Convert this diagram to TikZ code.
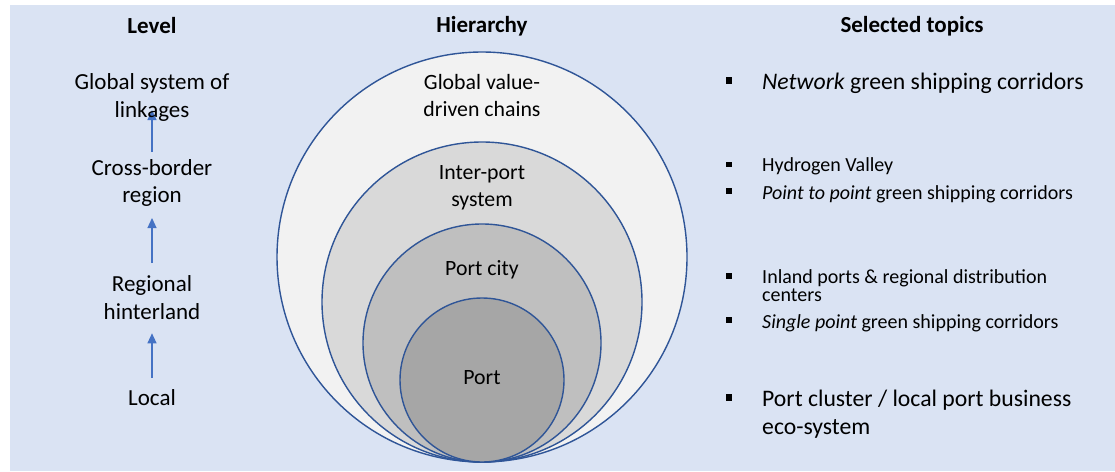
\documentclass[tikz,border=0pt]{standalone}
\usepackage{fontspec}
\setmainfont{Carlito}
\usetikzlibrary{arrows.meta}
\definecolor{panel}{HTML}{DAE3F3}
\definecolor{ringline}{HTML}{2F5597}
\definecolor{arrowblue}{HTML}{4472C4}
\definecolor{ringA}{HTML}{F2F2F2}
\definecolor{ringB}{HTML}{D9D9D9}
\definecolor{ringC}{HTML}{BFBFBF}
\definecolor{ringD}{HTML}{A6A6A6}
\pgfdeclarelayer{back}
\pgfsetlayers{back,main}
\begin{document}
\begin{tikzpicture}[x=1pt,y=-1pt,
  head/.style={inner sep=0pt, anchor=base, font=\fontsize{23}{27}\selectfont\bfseries},
  lvl/.style={inner sep=0pt, anchor=base, font=\fontsize{23}{28}\selectfont},
  hier/.style={inner sep=0pt, anchor=base, font=\fontsize{21.8}{27}\selectfont},
  small/.style={inner sep=0pt, anchor=base west, font=\fontsize{20}{24}\selectfont},
  big/.style={inner sep=0pt, anchor=base west, font=\fontsize{23.7}{28}\selectfont},
  ring/.style={circle, draw=ringline, line width=1.4pt, inner sep=0pt},
  bulbig/.style={rectangle, fill=black, inner sep=0pt, minimum size=6.8pt},
  bulsmall/.style={rectangle, fill=black, inner sep=0pt, minimum size=5.6pt},
  lvlarrow/.style={draw=arrowblue, line width=1.2pt, -{Triangle[length=10pt,width=9pt]}}
]
\useasboundingbox (0,0) rectangle (1115,471);
\begin{pgfonlayer}{back}
  \fill[white] (0,0) rectangle (1115,471);
  \fill[panel] (10,5) rectangle (1115,471);
\end{pgfonlayer}

% column headings
\node[head] (hlevel) at (152,33) {Level};
\node[head] (hhier)  at (482,32) {Hierarchy};
\node[head] (htopic) at (912,32) {Selected topics};

% levels, bottom to top
\node[lvl] (global)  at (152,89.3)  {Global system of};
\node[lvl] (globalb) at (152,117.3) {linkages};
\node[lvl] (cross)   at (152,175.7) {Cross-border};
\node[lvl] (crossb)  at (152,202.3) {region};
\node[lvl] (regio)   at (152,291)   {Regional};
\node[lvl] (regiob)  at (152,319)   {hinterland};
\node[lvl] (local)   at (152,405.7) {Local};

\begin{pgfonlayer}{back}
  \draw[lvlarrow, shorten <=28pt, shorten >=14.3pt] (local.base) -- (regiob.base);
  \draw[lvlarrow, shorten <=28pt, shorten >=15.7pt] (regio.base) -- (crossb.base);
  \draw[lvlarrow, shorten <=23.7pt, shorten >=20.7pt] (cross.base) -- (global.base);
\end{pgfonlayer}

% nested hierarchy, all rings touching at the bottom
\node[ring, fill=ringA, minimum size=410pt] (chains) at (482,257) {};
\node[ring, fill=ringB, minimum size=320pt] (inter)  at (482,302) {};
\node[ring, fill=ringC, minimum size=238pt] (city)   at (482,343) {};
\node[ring, fill=ringD, minimum size=164pt] (port)   at (482,380) {};

\node[hier] (tchains)  at (482,89.3)  {Global value-};
\node[hier] (tchainsb) at (482,116)   {driven chains};
\node[hier] (tinter)   at (482,179.3) {Inter-port};
\node[hier] (tinterb)  at (482,206.5) {system};
\node[hier] (tcity)    at (482,275)   {Port city};
\node[hier] (tport)    at (482,384)   {Port};

% topics per level
\node[bulbig]   (b1) at (729,80.5) {};
\node[big] (t1) at (762,89.3) {\textit{Network} green shipping corridors};

\node[bulsmall] (b2) at (729,164.5) {};
\node[small] (t2) at (762,171.7) {Hydrogen Valley};
\node[bulsmall] (b3) at (729,191) {};
\node[small] (t3) at (762,199) {\textit{Point to point} green shipping corridors};

\node[bulsmall] (b4) at (729,275.7) {};
\node[small] (t4)  at (762,283.3) {Inland ports \& regional distribution};
\node[small] (t4b) at (762,301.7) {centers};
\node[bulsmall] (b5) at (729,320) {};
\node[small] (t5) at (762,328.3) {\textit{Single point} green shipping corridors};

\node[bulbig]   (b6) at (729,397.3) {};
\node[big] (t6)  at (762,406) {Port cluster / local port business};
\node[big] (t6b) at (762,434) {eco-system};
\end{tikzpicture}
\end{document}
